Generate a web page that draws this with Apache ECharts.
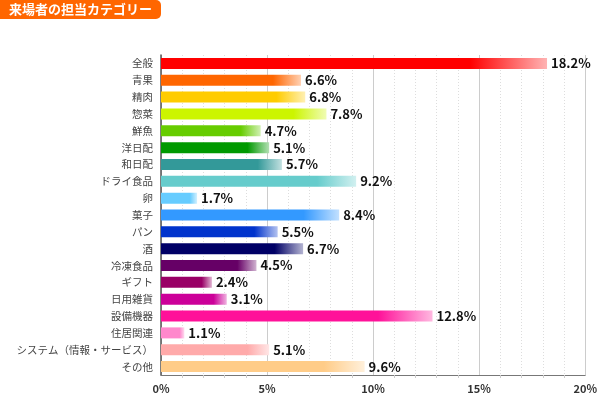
<!DOCTYPE html>
<html><head><meta charset="utf-8">
<script src="https://cdn.jsdelivr.net/npm/echarts@6/dist/echarts.min.js"></script>
<style>html,body{margin:0;padding:0;background:#fff}#c{width:600px;height:400px}</style>
</head><body><div id="c"></div>
<script>
const categories = ['全般','青果','精肉','惣菜','鮮魚','洋日配','和日配','ドライ食品','卵','菓子','パン','酒','冷凍食品','ギフト','日用雑貨','設備機器','住居関連','システム（情報・サービス）','その他'];
const values = [18.2,6.6,6.8,7.8,4.7,5.1,5.7,9.2,1.7,8.4,5.5,6.7,4.5,2.4,3.1,12.8,1.1,5.1,9.6];
const colors = ['#ff0000','#ff6600','#ffcc00','#ccf500','#66cc00','#009900','#339999','#66cccc','#66ccff','#3399ff','#0033cc','#000066','#660066','#990066','#cc0099','#ff1199','#ff88cc','#ffaaaa','#ffcc88'];
const xTicks = [0,5,10,15,20];

function lighten(hex, t){
  const n = parseInt(hex.slice(1),16);
  const r=(n>>16)&255,g=(n>>8)&255,b=n&255;
  const f=c=>Math.round(c+(255-c)*t);
  return 'rgb('+f(r)+','+f(g)+','+f(b)+')';
}
const font = '"Noto Sans CJK JP", "Noto Sans", sans-serif';
const chart = echarts.init(document.getElementById('c'));
chart.setOption({
  animation:false,
  title:{text:'来場者の担当カテゴリー', left:0, top:0, backgroundColor:'#ff6600', borderRadius:[0,5,5,0], padding:[3,9,3,9],
    textStyle:{color:'#fff', fontSize:13, fontWeight:'bold', fontFamily:font}},
  grid:{left:161, right:14, top:55, bottom:25, containLabel:false},
  xAxis:{type:'value', min:0, max:20, interval:5,
    axisLine:{show:true, lineStyle:{color:'#777', width:1}},
    axisTick:{show:false},
    minorTick:{show:true, splitNumber:5, length:3, lineStyle:{color:'#ccc'}},
    axisLabel:{formatter:v=>xTicks.includes(v)?v+'%':'', color:'#333', fontSize:11, fontWeight:'bold', fontFamily:font, margin:8},
    splitLine:{show:true, lineStyle:{color:'#ccc', width:1}},
    minorSplitLine:{show:true, lineStyle:{color:'#ddd', type:[1,2], width:1}}
  },
  yAxis:{type:'category', data:categories, inverse:true,
    axisLine:{show:true, lineStyle:{color:'#555', width:1.5}},
    axisTick:{show:false},
    axisLabel:{color:'#444', fontSize:10.5, fontFamily:font, margin:8}
  },
  series:[{type:'bar', barWidth:11,
    data:values.map((v,i)=>({value:v, itemStyle:{color:new echarts.graphic.LinearGradient(0,0,1,0,[
      {offset:0,color:colors[i]},{offset:0.8,color:colors[i]},{offset:1,color:lighten(colors[i],0.7)}])}})),
    label:{show:true, position:'right', distance:4, formatter:p=>p.value.toFixed(1)+'%', color:'#111', fontSize:13, fontWeight:'bold', fontFamily:font}
  }]
});
</script></body></html>
